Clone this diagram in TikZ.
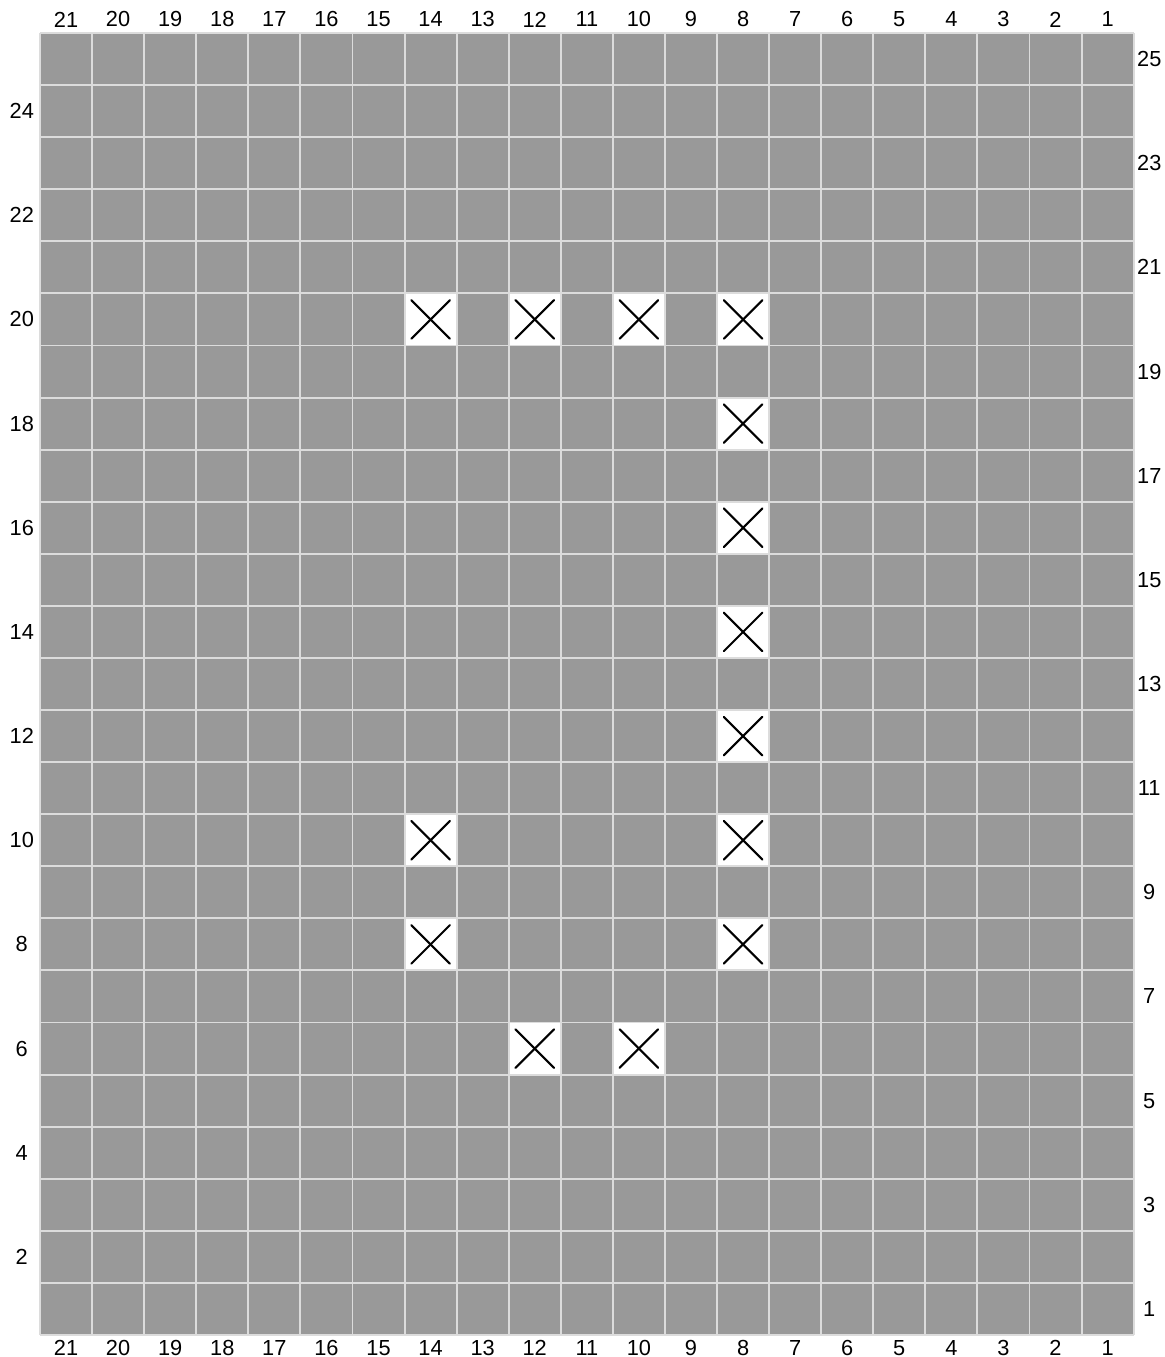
\documentclass[tikz,border=0pt]{standalone}
\usepackage{fontspec}
\setmainfont{Liberation Sans}
\definecolor{chartgrey}{HTML}{999999}
\definecolor{gridgrey}{HTML}{DCDCDC}
\begin{document}
\begin{tikzpicture}[
    x=0.5207cm,y=0.5207cm,
    font=\fontsize{6.2}{7}\selectfont,
    purl/.style={fill=white},
    cross/.style={line width=0.6pt,black,line cap=round},
    grid line/.style={draw=gridgrey,line width=0.55pt},
    num/.style={inner sep=0pt}
]
    \useasboundingbox (-0.768,-0.4225) rectangle (21.595,25.634);

    % Background of the chart.
    \fill[chartgrey] (0,0) rectangle (21,25);

    % Purl stitches, column counted from the right.
    \foreach \c/\r in {14/20,12/20,10/20,8/20,8/18,8/16,8/14,8/12,
                       14/10,8/10,14/8,8/8,12/6,10/6} {
        \fill[purl] ({21-\c},{\r-1}) rectangle ++(1,1);
        \draw[cross] ({21-\c+0.13},{\r-0.87}) -- ++(0.74,0.74);
        \draw[cross] ({21-\c+0.13},{\r-0.13}) -- ++(0.74,-0.74);
    }

    % Grid lines.
    \foreach \i in {0,...,21}
        \draw[grid line] (\i,0) -- (\i,25);
    \foreach \j in {0,...,25}
        \draw[grid line] (0,\j) -- (21,\j);

    % Column numbers above and below.
    \foreach \c in {1,...,21} {
        \node[num] (top-\c) at ({21-\c+0.5},25.26) {\c};
        \node[num] (bot-\c) at ({21-\c+0.5},-0.25) {\c};
    }

    % Row numbers: even on the left, odd on the right.
    \foreach \r in {2,4,...,24}
        \node[num] (row-\r) at (-0.35,{\r-0.5}) {\r};
    \foreach \r in {1,3,...,25}
        \node[num] (row-\r) at (21.3,{\r-0.5}) {\r};
\end{tikzpicture}
\end{document}
